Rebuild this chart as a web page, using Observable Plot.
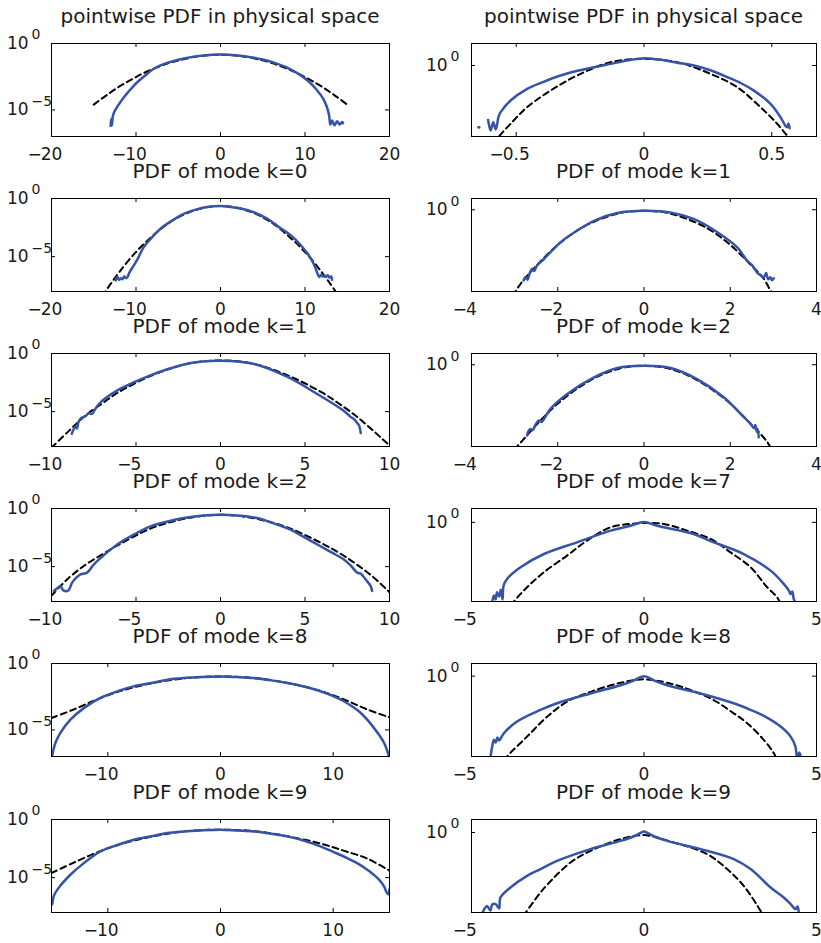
<!DOCTYPE html>
<html><head><meta charset="utf-8">
<script src="https://cdn.jsdelivr.net/npm/d3@7"></script>
<script src="https://cdn.jsdelivr.net/npm/@observablehq/plot@0.6"></script>
<style>
body{margin:0;background:#fff;}
#fig{position:relative;width:821px;height:943px;overflow:hidden;background:#fff;font-family:"DejaVu Sans",sans-serif;}
.ttl{position:absolute;font-size:20px;line-height:14px;height:14px;white-space:nowrap;text-align:center;color:#1a1a1a;width:400px;}
.pnl{position:absolute;}
.pnl svg{overflow:visible;}
</style></head><body><div id="fig"></div>
<script>
// ---- titles ----
const titlesLeft = ["pointwise PDF in physical space","PDF of mode k=0","PDF of mode k=1","PDF of mode k=2","PDF of mode k=8","PDF of mode k=9"];
const titlesRight = ["pointwise PDF in physical space","PDF of mode k=1","PDF of mode k=2","PDF of mode k=7","PDF of mode k=8","PDF of mode k=9"];

// ---- axes (x domains, x ticks, y domain as log10 exponents, y ticks as exponents) ----
const xDomainsLeft = [[-20,20],[-20,20],[-10,10],[-10,10],[-15,15],[-15,15]];
const xTicksLeft = [[-20,-10,0,10,20],[-20,-10,0,10,20],[-10,-5,0,5,10],[-10,-5,0,5,10],[-10,0,10],[-10,0,10]];
const yExpLeft = [[-7,0],[-8,0],[-8,0],[-8,0],[-7,0],[-8,0]];
const yTickExpLeft = [0,-5];
const xDomainsRight = [[-0.675,0.675],[-4,4],[-4,4],[-5,5],[-5,5],[-5,5]];
const xTicksRight = [[-0.5,0,0.5],[-4,-2,0,2,4],[-4,-2,0,2,4],[-5,0,5],[-5,0,5],[-5,0,5]];
const yExpRight = [[-3,0.93],[-4,0.55],[-4,0.55],[-4,0.7],[-4,0.63],[-4,0.65]];
const yTickExpRight = [0];

// ---- data: [x, log10(pdf)] ----
// left column
const L1_blue = [[-13.0,-6.2],[-12.95,-5.7],[-12.85,-6.15],[-12.75,-5.5],[-12.6,-5.2],[-12.3,-4.85],[-11.5,-4.1],[-10.3,-3.2],[-9,-2.45],[-7.9,-1.9],[-6.5,-1.5],[-5,-1.22],[-3,-0.97],[-1,-0.84],[0,-0.83],[1,-0.85],[3,-0.97],[5,-1.2],[6.5,-1.48],[8,-1.85],[9.5,-2.4],[10.5,-2.9],[11.4,-3.5],[12.2,-4.2],[12.6,-4.8],[12.85,-5.4],[13.0,-6.1],[13.2,-5.8],[13.5,-6.15],[13.8,-5.85],[14.1,-6.1],[14.4,-5.9],[14.5,-6.0]];
const L1_gauss = [[-15,-4.6],[-13.5,-3.9],[-12,-3.25],[-10.5,-2.7],[-9,-2.2],[-7.5,-1.8],[-6,-1.45],[-4.5,-1.2],[-3,-1.0],[-1.5,-0.89],[0,-0.85],[1.5,-0.89],[3,-1.0],[4.5,-1.2],[6,-1.45],[7.5,-1.8],[9,-2.2],[10.5,-2.7],[12,-3.25],[13.5,-3.9],[15,-4.6]];
const L2_blue = [[-12.4,-7.05],[-12.2,-6.75],[-12.0,-7.0],[-11.8,-6.85],[-11.6,-6.95],[-11.4,-6.7],[-11.2,-6.85],[-11.0,-6.75],[-10.8,-6.4],[-10.65,-6.2],[-10.26,-5.75],[-9.8,-5.2],[-9.1,-4.2],[-8,-3.25],[-7.1,-2.6],[-5.5,-1.8],[-4.3,-1.3],[-3,-0.98],[-1.6,-0.74],[0,-0.64],[1,-0.7],[2.4,-0.86],[4,-1.2],[5.5,-1.72],[7,-2.5],[8.3,-3.16],[9.3,-3.85],[10.3,-4.74],[10.8,-5.3],[11.2,-5.9],[11.5,-6.5],[11.7,-6.75],[11.9,-6.55],[12.1,-6.7],[12.3,-6.6],[12.5,-6.75],[12.7,-6.6],[12.9,-6.8],[13.1,-6.7],[13.2,-7.0]];
const L2_gauss = [[-14,-8.4],[-13,-7.35],[-12,-6.35],[-10,-4.6],[-8,-3.2],[-6,-2.05],[-4,-1.27],[-2,-0.8],[0,-0.64],[2,-0.8],[4,-1.27],[6,-2.05],[8,-3.2],[10,-4.6],[12,-6.35],[13,-7.35],[14,-8.4]];
const L3_blue = [[-8.8,-6.9],[-8.7,-6.55],[-8.6,-6.3],[-8.5,-6.45],[-8.4,-5.9],[-8.28,-5.6],[-8.0,-5.4],[-7.8,-5.15],[-7.6,-5.2],[-7.4,-4.75],[-7.1,-4.2],[-6.1,-3.17],[-5.1,-2.47],[-4,-1.8],[-3.1,-1.33],[-1.6,-0.77],[0,-0.62],[2,-0.9],[4,-2.04],[5.7,-3.46],[7.1,-4.73],[7.4,-5.05],[7.7,-5.45],[7.9,-5.65],[8.1,-6.0],[8.2,-6.2],[8.3,-6.85]];
const L3_gauss = [[-10,-8.1],[-9,-6.7],[-8,-5.35],[-7,-4.3],[-6,-3.3],[-4,-1.85],[-2,-0.9],[0,-0.6],[2,-0.9],[4,-1.9],[6,-3.35],[7,-4.3],[8,-5.35],[9,-6.6],[10,-7.9]];
const L4_blue = [[-9.86,-7.1],[-9.6,-6.8],[-9.47,-6.66],[-9.35,-6.95],[-9.2,-7.1],[-9.0,-7.05],[-8.9,-6.8],[-8.78,-6.38],[-8.5,-5.9],[-8.28,-5.67],[-7.89,-5.52],[-7.6,-5.0],[-7.3,-4.53],[-6.11,-3.1],[-5,-2.15],[-4.14,-1.54],[-3,-1.07],[-2.17,-0.82],[-1,-0.6],[0,-0.54],[1,-0.6],[2.17,-0.82],[3,-1.2],[4.14,-1.82],[5,-2.5],[5.92,-3.25],[6.6,-3.8],[7.3,-4.38],[7.7,-4.9],[8.09,-5.52],[8.3,-5.6],[8.58,-6.09],[8.88,-6.66],[8.97,-7.09]];
const L4_gauss = [[-10,-7.5],[-9,-6.0],[-8,-4.85],[-7,-3.95],[-6,-3.1],[-4,-1.65],[-2,-0.85],[0,-0.54],[2,-0.85],[4,-1.65],[6,-3.0],[7,-3.8],[8,-4.75],[9,-5.85],[10,-7.2]];
const L5_blue = [[-14.94,-6.96],[-14.8,-6.4],[-14.64,-5.95],[-14.2,-5.2],[-13.3,-4.21],[-12.1,-3.34],[-10.65,-2.59],[-9,-2.05],[-7.7,-1.72],[-6,-1.45],[-4.73,-1.22],[-3,-1.08],[-1.77,-1.02],[0,-0.97],[1.5,-1.02],[2.96,-1.1],[4.5,-1.27],[5.92,-1.47],[7.5,-1.75],[8.87,-2.09],[10,-2.45],[10.95,-2.84],[11.8,-3.3],[12.43,-3.71],[13.1,-4.3],[13.6,-4.83],[14.1,-5.4],[14.5,-5.95],[14.75,-6.45],[14.94,-6.96]];
const L5_gauss = [[-15,-4.1],[-13,-3.45],[-11,-2.72],[-9,-2.1],[-6,-1.47],[-3,-1.1],[0,-0.97],[3,-1.1],[6,-1.47],[9,-2.1],[11,-2.72],[13,-3.45],[15,-4.05]];
const L6_blue = [[-14.94,-7.29],[-14.85,-6.8],[-14.8,-6.58],[-14.35,-5.86],[-13.3,-4.73],[-12.1,-3.73],[-10.65,-2.74],[-9,-2.15],[-7.7,-1.74],[-6,-1.42],[-4.73,-1.16],[-3,-1.02],[-1.77,-0.94],[0,-0.88],[1.5,-0.95],[2.96,-1.03],[4.5,-1.22],[5.92,-1.45],[7.5,-1.85],[8.87,-2.31],[10,-2.78],[11.2,-3.3],[12.2,-3.8],[13,-4.3],[13.6,-4.75],[14.05,-5.15],[14.5,-5.73],[14.75,-6.29],[14.9,-6.44],[15,-6.0]];
const L6_gauss = [[-15,-4.6],[-13,-3.7],[-11,-2.85],[-9,-2.15],[-6,-1.45],[-3,-1.0],[0,-0.88],[3,-1.0],[6,-1.45],[9,-2.1],[11,-2.7],[13,-3.35],[15,-4.4]];
// right column
const R1_blue = [[-0.61,-2.3],[-0.60,-2.75],[-0.59,-2.4],[-0.58,-2.7],[-0.57,-2.2],[-0.565,-2.05],[-0.561,-1.97],[-0.522,-1.48],[-0.457,-0.99],[-0.4,-0.72],[-0.327,-0.42],[-0.26,-0.22],[-0.196,-0.07],[-0.13,0.07],[-0.066,0.21],[0,0.31],[0.065,0.24],[0.13,0.12],[0.195,0.0],[0.26,-0.2],[0.326,-0.49],[0.38,-0.75],[0.43,-1.06],[0.495,-1.62],[0.534,-2.18],[0.553,-2.54],[0.56,-2.61],[0.565,-2.45],[0.57,-2.65]];
const R1_outlier = [[-0.646,-2.61]];
const R1_gauss = [[-0.59,-3.3],[-0.568,-3.0],[-0.522,-2.46],[-0.457,-1.76],[-0.366,-1.06],[-0.261,-0.42],[-0.131,0.14],[0,0.28],[0.13,0.14],[0.26,-0.35],[0.365,-0.92],[0.456,-1.76],[0.521,-2.46],[0.56,-2.96],[0.58,-3.2]];
const R2_blue = [[-2.79,-3.46],[-2.75,-3.3],[-2.7,-3.42],[-2.65,-3.1],[-2.59,-2.89],[-2.55,-3.0],[-2.48,-2.73],[-2.32,-2.41],[-1.94,-1.6],[-1.55,-1.02],[-1.16,-0.54],[-0.62,-0.16],[0,-0.05],[0.61,-0.13],[1.15,-0.45],[1.7,-1.1],[2.16,-1.84],[2.39,-2.49],[2.5,-2.7],[2.62,-3.06],[2.7,-3.2],[2.78,-3.3],[2.83,-3.1],[2.88,-3.4],[2.93,-3.3],[2.97,-3.45],[3.01,-3.35]];
const R2_gauss = [[-3.05,-4.2],[-2.98,-4.0],[-2.86,-3.62],[-2.5,-2.75],[-2,-1.72],[-1.5,-0.95],[-1,-0.45],[-0.5,-0.14],[0,-0.05],[0.5,-0.14],[1,-0.45],[1.5,-0.95],[2,-1.72],[2.5,-2.75],[2.78,-3.38],[2.89,-3.79],[2.98,-4.1]];
const R3_blue = [[-2.71,-3.46],[-2.68,-3.25],[-2.63,-3.14],[-2.58,-3.2],[-2.52,-2.95],[-2.44,-2.73],[-2.38,-2.8],[-2.17,-2.16],[-1.78,-1.43],[-1.16,-0.62],[-0.62,-0.16],[0,-0.05],[0.62,-0.16],[1.23,-0.7],[1.85,-1.59],[2.24,-2.4],[2.47,-2.89],[2.55,-3.1],[2.58,-2.95],[2.62,-3.3],[2.64,-3.15],[2.66,-3.55]];
const R3_gauss = [[-3.0,-4.15],[-2.94,-4.0],[-2.82,-3.71],[-2.5,-2.95],[-2,-1.9],[-1.5,-1.1],[-1,-0.5],[-0.5,-0.15],[0,-0.05],[0.5,-0.15],[1,-0.5],[1.5,-1.1],[2,-1.9],[2.5,-2.95],[2.7,-3.38],[2.86,-3.79],[2.95,-4.1]];
const R4_blue = [[-4.4,-4.05],[-4.35,-3.7],[-4.3,-3.9],[-4.26,-3.53],[-4.2,-3.75],[-4.15,-3.4],[-4.1,-3.9],[-4.07,-3.2],[-3.97,-2.86],[-3.58,-2.27],[-2.9,-1.6],[-1.94,-1.01],[-0.97,-0.42],[-0.39,-0.17],[0,0.02],[0.38,-0.17],[1.44,-0.59],[1.93,-0.95],[2.89,-1.6],[3.67,-2.44],[4.05,-3.11],[4.2,-3.45],[4.25,-3.62],[4.3,-3.5],[4.34,-3.87],[4.39,-4.05]];
const R4_gauss = [[-3.85,-4.2],[-3.77,-4.0],[-3.39,-3.28],[-2.9,-2.52],[-2.23,-1.68],[-1.65,-0.92],[-0.97,-0.25],[-0.39,-0.08],[0,-0.03],[0.57,-0.08],[1.25,-0.42],[1.93,-0.84],[2.51,-1.52],[3.09,-2.27],[3.57,-3.28],[3.86,-3.79],[3.95,-4.1]];
const R5_blue = [[-4.45,-4.05],[-4.4,-3.5],[-4.35,-3.17],[-4.3,-3.3],[-4.25,-3.05],[-4.2,-3.2],[-4.06,-2.84],[-3.68,-2.26],[-3.0,-1.68],[-2.52,-1.35],[-1.55,-0.86],[-0.68,-0.45],[-0.3,-0.22],[-0.1,-0.05],[0,0.0],[0.1,-0.05],[0.3,-0.22],[0.67,-0.45],[1.64,-0.86],[2.6,-1.35],[3.09,-1.68],[3.5,-2.0],[3.96,-2.51],[4.25,-3.01],[4.39,-3.51],[4.44,-4.05],[4.5,-3.8],[4.55,-4.05]];
const R5_gauss = [[-4.05,-4.2],[-3.97,-4.0],[-3.39,-3.01],[-2.8,-2.01],[-2.23,-1.27],[-1.55,-0.78],[-0.68,-0.33],[0,-0.16],[0.67,-0.33],[1.35,-0.69],[2.02,-1.19],[2.6,-1.85],[2.99,-2.34],[3.47,-3.17],[3.76,-3.83],[3.85,-4.15]];
const R6_blue = [[-4.69,-4.05],[-4.62,-3.8],[-4.55,-3.67],[-4.45,-3.9],[-4.4,-3.6],[-4.3,-3.58],[-4.2,-3.8],[-4.16,-3.25],[-3.87,-2.75],[-3.39,-2.17],[-3.0,-1.83],[-2.52,-1.42],[-1.55,-0.83],[-0.68,-0.42],[-0.3,-0.2],[-0.1,-0.02],[0,0.05],[0.1,-0.02],[0.3,-0.2],[0.67,-0.42],[1.64,-0.83],[2.6,-1.33],[3.09,-1.83],[3.67,-2.75],[4.05,-3.25],[4.25,-3.58],[4.39,-3.83],[4.45,-3.7],[4.49,-4.05]];
const R6_gauss = [[-3.5,-4.15],[-3.43,-4.0],[-3.0,-3.0],[-2.8,-2.6],[-2.13,-1.5],[-1.55,-0.92],[-0.68,-0.33],[0,-0.13],[0.86,-0.5],[1.83,-1.08],[2.41,-1.83],[2.89,-2.67],[3.38,-3.92],[3.45,-4.15]];

const blueLeft = [L1_blue,L2_blue,L3_blue,L4_blue,L5_blue,L6_blue];
const gaussLeft = [L1_gauss,L2_gauss,L3_gauss,L4_gauss,L5_gauss,L6_gauss];
const blueRight = [R1_blue,R2_blue,R3_blue,R4_blue,R5_blue,R6_blue];
const gaussRight = [R1_gauss,R2_gauss,R3_gauss,R4_gauss,R5_gauss,R6_gauss];

// ---- layout / style ----
const BLUE = "#3653a6";
const INK = "#1a1a1a";
const TICK_FS = 17;
const rowTops = [43,198,353,508,663,819];
const FH = 93;
const cols = [
  {left:0, width:410, mL:51, mR:21, fw:338, tenDx:-44.5, expDx:-20},
  {left:410, width:411, mL:61, mR:5, fw:345, tenDx:-45.5, expDx:-21}
];
const fig = document.getElementById("fig");
const toPts = arr => arr.map(([x,e]) => ({x, y: 10 ** e}));
const digitsWidth = s => [...s].reduce((w,c) => w + (c === "." ? 0.318 : 0.636), 0) * TICK_FS;

function panel(ci, ri, title, xDom, xTicks, yExp, yTickExp, blue, gauss, extra) {
  const c = cols[ci];
  const yt = yTickExp.map(e => 10 ** e);
  const expText = e => (e < 0 ? "\u2212" : "") + Math.abs(e);
  const tickLabelMarks = xTicks.flatMap(t => {
    const digits = String(Math.abs(t));
    const m = [Plot.text([t], {x: d => d, text: () => digits, frameAnchor: "bottom", lineAnchor: "top", dy: 11, fontSize: TICK_FS, fill: INK})];
    if (t < 0) m.push(Plot.text([t], {x: d => d, text: () => "\u2212", frameAnchor: "bottom", lineAnchor: "top", dy: 11, dx: -digitsWidth(digits) / 2 + 1, textAnchor: "end", fontSize: TICK_FS, fill: INK}));
    return m;
  });
  const marks = [
    Plot.line(toPts(gauss), {x: "x", y: "y", stroke: "#000", strokeWidth: 2, strokeDasharray: "6,4", curve: "catmull-rom", clip: true}),
    Plot.line(toPts(blue), {x: "x", y: "y", stroke: BLUE, strokeWidth: 2.5, curve: "catmull-rom", clip: true}),
  ];
  if (extra) marks.push(Plot.dot(toPts(extra), {x: "x", y: "y", r: 1.6, fill: BLUE, stroke: null, clip: true}));
  marks.push(
    Plot.frame({stroke: "#000", strokeWidth: 1}),
    Plot.ruleX(xTicks, {x: d => d, insetTop: FH - 4, stroke: "#000"}),
    Plot.ruleX(xTicks, {x: d => d, insetBottom: FH - 4, stroke: "#000"}),
    Plot.ruleY(yt, {y: d => d, insetRight: c.fw - 4, stroke: "#000"}),
    Plot.ruleY(yt, {y: d => d, insetLeft: c.fw - 4, stroke: "#000"}),
    ...tickLabelMarks,
    Plot.text(yt, {y: d => d, text: () => "10", frameAnchor: "left", dx: c.tenDx, textAnchor: "start", fontSize: TICK_FS, fill: INK}),
    Plot.text(yTickExp, {y: e => 10 ** e, text: expText, frameAnchor: "left", dx: c.expDx, dy: -8.5, textAnchor: "start", fontSize: 14, fill: INK})
  );
  const svg = Plot.plot({
    width: c.width, height: 5 + FH + 45,
    marginLeft: c.mL, marginRight: c.mR, marginTop: 5, marginBottom: 45,
    style: {fontFamily: '"DejaVu Sans", sans-serif', fontSize: TICK_FS + "px", background: "transparent", overflow: "visible", color: INK},
    x: {domain: xDom, axis: null},
    y: {type: "log", domain: [10 ** yExp[0], 10 ** yExp[1]], axis: null},
    marks
  });
  const wrap = document.createElement("div");
  wrap.className = "pnl";
  wrap.style.left = c.left + "px";
  wrap.style.top = (rowTops[ri] - 5) + "px";
  wrap.appendChild(svg);
  fig.appendChild(wrap);
  const t = document.createElement("div");
  t.className = "ttl";
  t.textContent = title;
  const cx = c.left + c.mL + c.fw / 2;
  t.style.left = (cx - 200) + "px";
  t.style.top = (rowTops[ri] - 20.5 - 13.9) + "px";
  fig.appendChild(t);
}

for (let r = 0; r < 6; r++) {
  panel(0, r, titlesLeft[r], xDomainsLeft[r], xTicksLeft[r], yExpLeft[r], yTickExpLeft, blueLeft[r], gaussLeft[r], null);
  panel(1, r, titlesRight[r], xDomainsRight[r], xTicksRight[r], yExpRight[r], yTickExpRight, blueRight[r], gaussRight[r], r === 0 ? R1_outlier : null);
}
</script></body></html>
